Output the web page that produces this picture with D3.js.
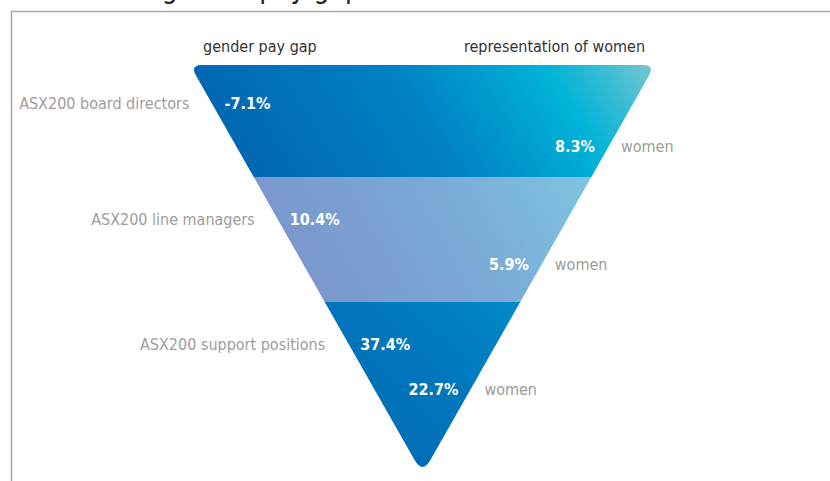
<!DOCTYPE html>
<html>
<head>
<meta charset="utf-8">
<script src="https://cdn.jsdelivr.net/npm/d3@7"></script>
<style>
  html, body { margin: 0; padding: 0; background: #fff; }
  svg { display: block; font-family: "DejaVu Sans Condensed", "Liberation Sans Narrow", "Roboto", sans-serif; }
</style>
</head>
<body>
<svg id="chart" width="830" height="481"></svg>
<script>
// data
const categories = ["ASX200 board directors", "ASX200 line managers", "ASX200 support positions"];
const payGap = [-7.1, 10.4, 37.4];
const women = [8.3, 5.9, 22.7];
const headers = ["gender pay gap", "representation of women"];
const title = "The gender pay gap";

const width = 830;
const height = 481;

const svg = d3.select("#chart");
const defs = svg.append("defs");

// level 0..3 -> band edges (top of triangle to geometric tip)
const y = d3.scaleLinear().domain([0, 1, 2, 3]).range([65, 177, 302, 474]);
const triTop = y(0), triTip = y(3);
const xLeftTop = 192, xRightTop = 653, xTip = (xLeftTop + xRightTop) / 2;

const leftEdge = yy => xLeftTop + (xTip - xLeftTop) * (yy - triTop) / (triTip - triTop);
const rightEdge = yy => xRightTop - (xRightTop - xTip) * (yy - triTop) / (triTip - triTop);

// gradients
const grads = [
  { id: "g0", y1: "15%", stops: [[0, "#0066b2"], [0.45, "#0082c4"], [0.76, "#00b3d7"], [0.86, "#2fbad5"], [1, "#80cacf"]] },
  { id: "g1", y1: "15%", stops: [[0, "#7a91c9"], [0.5, "#7aa8d6"], [1, "#80cfe6"]] },
  { id: "g2", y1: "40%", stops: [[0, "#0064ae"], [0.5, "#0079be"], [1, "#009bcf"]] }
];
grads.forEach(g => {
  const lg = defs.append("linearGradient")
    .attr("id", g.id)
    .attr("x1", "0%").attr("y1", g.y1)
    .attr("x2", "100%").attr("y2", "0%");
  g.stops.forEach(s => lg.append("stop").attr("offset", s[0]).attr("stop-color", s[1]));
});

// rounded triangle clip
function roundedTriangle(pts, r) {
  const p = d3.path();
  const n = pts.length;
  for (let i = 0; i < n; i++) {
    const a = pts[(i + n - 1) % n], b = pts[i], c = pts[(i + 1) % n];
    const d1 = Math.hypot(a[0] - b[0], a[1] - b[1]);
    const d2 = Math.hypot(c[0] - b[0], c[1] - b[1]);
    const p1 = [b[0] + (a[0] - b[0]) * r[i] / d1, b[1] + (a[1] - b[1]) * r[i] / d1];
    const p2 = [b[0] + (c[0] - b[0]) * r[i] / d2, b[1] + (c[1] - b[1]) * r[i] / d2];
    if (i === 0) p.moveTo(p1[0], p1[1]); else p.lineTo(p1[0], p1[1]);
    p.quadraticCurveTo(b[0], b[1], p2[0], p2[1]);
  }
  p.closePath();
  return p.toString();
}

defs.append("clipPath").attr("id", "tri")
  .append("path")
  .attr("d", roundedTriangle([[xLeftTop - 2, triTop], [xRightTop + 2, triTop], [xTip, triTip]], [12, 12, 16]));

// frame
svg.append("path")
  .attr("d", `M11.5,${height} V11.5 H${width}`)
  .attr("fill", "none")
  .attr("stroke", "#a8a8a8")
  .attr("stroke-width", 1.5);

// title, cut off by the top edge as in the original
svg.append("text")
  .attr("x", 107)
  .attr("y", -2)
  .attr("font-size", 28)
  .attr("fill", "#222")
  .text(title);

// bands
const bands = svg.append("g").attr("clip-path", "url(#tri)");
bands.selectAll("rect")
  .data(categories)
  .join("rect")
  .attr("x", xLeftTop - 5)
  .attr("y", (d, i) => y(i))
  .attr("width", xRightTop - xLeftTop + 10)
  .attr("height", (d, i) => y(i + 1) - y(i))
  .attr("fill", (d, i) => `url(#g${i})`);

// headers
svg.append("text")
  .attr("x", xLeftTop + 11)
  .attr("y", 52)
  .attr("font-size", 16)
  .attr("fill", "#333")
  .text(headers[0]);
svg.append("text")
  .attr("x", xRightTop - 8)
  .attr("y", 52)
  .attr("text-anchor", "end")
  .attr("font-size", 16)
  .attr("fill", "#333")
  .text(headers[1]);

const fmt = v => `${v.toFixed(1)}%`;

categories.forEach((c, i) => {
  const h = y(i + 1) - y(i);
  const yPay = y(i) + Math.min(0.34 * h, 42);
  const yWomen = y(i) + Math.min(0.73 * h, 87);

  svg.append("text")
    .attr("x", leftEdge(yPay) - 24)
    .attr("y", yPay)
    .attr("dy", "0.35em")
    .attr("text-anchor", "end")
    .attr("font-size", 16)
    .attr("fill", "#9d9d9d")
    .text(c);

  svg.append("text")
    .attr("x", leftEdge(yPay) + 11)
    .attr("y", yPay)
    .attr("dy", "0.35em")
    .attr("font-size", 16)
    .attr("font-weight", 700)
    .attr("fill", "#fff")
    .text(fmt(payGap[i]));

  svg.append("text")
    .attr("x", rightEdge(yWomen) - 12)
    .attr("y", yWomen)
    .attr("dy", "0.35em")
    .attr("text-anchor", "end")
    .attr("font-size", 16)
    .attr("font-weight", 700)
    .attr("fill", "#fff")
    .text(fmt(women[i]));

  svg.append("text")
    .attr("x", rightEdge(yWomen) + 14)
    .attr("y", yWomen)
    .attr("dy", "0.35em")
    .attr("font-size", 16)
    .attr("fill", "#9d9d9d")
    .text("women");
});
</script>
</body>
</html>
